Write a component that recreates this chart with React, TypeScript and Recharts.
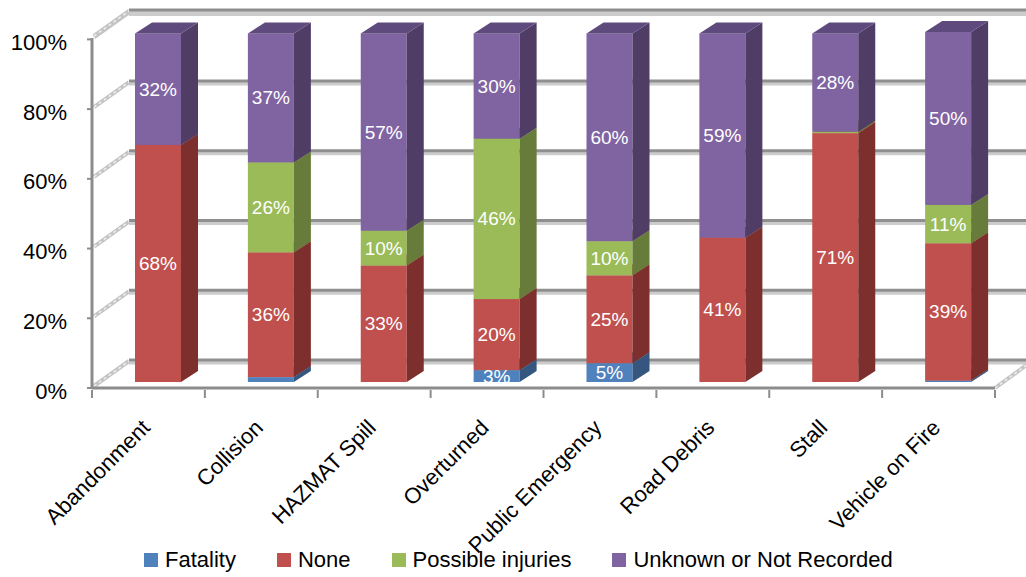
import {
  Bar,
  BarChart,
  CartesianGrid,
  LabelList,
  Legend,
  XAxis,
  YAxis,
} from 'recharts';

// Incident types and share of each injury outcome (%).
const CATEGORIES = [
  'Abandonment',
  'Collision',
  'HAZMAT Spill',
  'Overturned',
  'Public Emergency',
  'Road Debris',
  'Stall',
  'Vehicle on Fire',
];
const FATALITY = [0, 1.4, 0, 3.4, 5.4, 0, 0, 0.4];
const NONE = [68, 35.8, 33.4, 20.4, 25.2, 41.4, 71.4, 39.4];
const POSSIBLE = [0, 25.8, 10, 46, 9.8, 0, 0.4, 11];
const UNKNOWN = [32, 37, 56.6, 30.2, 59.6, 58.6, 28.2, 49.6];
const Y_TICKS = [0, 20, 40, 60, 80, 100];

const data = CATEGORIES.map((name, i) => ({
  name,
  Fatality: FATALITY[i],
  None: NONE[i],
  'Possible injuries': POSSIBLE[i],
  'Unknown or Not Recorded': UNKNOWN[i],
}));

const SERIES = [
  { key: 'Fatality', front: '#4F81BD', side: '#35577F', top: '#3F6797' },
  { key: 'None', front: '#C0504D', side: '#7D2F2D', top: '#9A3F3D' },
  { key: 'Possible injuries', front: '#9BBB59', side: '#677B3A', top: '#7C9647' },
  { key: 'Unknown or Not Recorded', front: '#8064A2', side: '#4F3D66', top: '#5E4A7D' },
];

const FONT = '"Liberation Sans", Arial, sans-serif';
const W = 1026;
const H = 577;
const Y_AXIS_W = 92;
const RIGHT = 31;
const TOP = 38;
const X_AXIS_H = 189;
const BAND = (W - Y_AXIS_W - RIGHT) / CATEGORIES.length;

// 3D look: bars sit a little behind the front plane, back wall further back.
const SHIFT_X = 10;
const SHIFT_Y = -6;
const DEPTH_X = 17;
const DEPTH_Y = 11;
const WALL_X = 37;
const WALL_Y = -27;

function BoxShape(props: any) {
  const { x, y, width, height, front, side, top } = props;
  if (!height || height <= 0) return <g />;
  const x0 = x + SHIFT_X;
  const y0 = y + SHIFT_Y;
  const x1 = x0 + width;
  const y1 = y0 + height;
  return (
    <g>
      <rect x={x0} y={y0} width={width} height={height} fill={front} />
      <polygon
        points={`${x1},${y0} ${x1 + DEPTH_X},${y0 - DEPTH_Y} ${x1 + DEPTH_X},${y1 - DEPTH_Y} ${x1},${y1}`}
        fill={side}
      />
      <polygon
        points={`${x0},${y0} ${x1},${y0} ${x1 + DEPTH_X},${y0 - DEPTH_Y} ${x0 + DEPTH_X},${y0 - DEPTH_Y}`}
        fill={top}
      />
    </g>
  );
}

function ValueLabel(props: any) {
  const vb = props.viewBox ?? props;
  const raw = props.value;
  const v = Array.isArray(raw) ? raw[1] - raw[0] : Number(raw);
  if (!(v >= 2.5)) return null;
  return (
    <text
      x={vb.x + SHIFT_X + vb.width / 2}
      y={vb.y + SHIFT_Y + vb.height / 2}
      fill="#ffffff"
      textAnchor="middle"
      dominantBaseline="central"
      fontSize={19}
      fontFamily={FONT}
    >
      {Math.round(v)}%
    </text>
  );
}

function GridLine(props: any) {
  const { x1, y1, x2, index } = props;
  const isFloor = index === 0;
  const isTop = index === Y_TICKS.length - 1;
  return (
    <g>
      <line x1={x1 + WALL_X} y1={y1 + WALL_Y + 1} x2={x2 + WALL_X} y2={y1 + WALL_Y + 1} stroke="#cccccc" strokeWidth={5} />
      <line
        x1={x1 + WALL_X}
        y1={y1 + WALL_Y - 1}
        x2={x2 + WALL_X}
        y2={y1 + WALL_Y - 1}
        stroke={isTop ? '#bdbdbd' : '#8f8f8f'}
        strokeWidth={3}
      />
      <line x1={x1 + 2} y1={y1 - 2} x2={x1 + WALL_X} y2={y1 + WALL_Y} stroke="#c4c4c4" strokeWidth={4} />
      <line x1={x1 + 2} y1={y1 - 2} x2={x1 + WALL_X} y2={y1 + WALL_Y} stroke="#efefef" strokeWidth={1.5} strokeDasharray="3 3" />
      {isFloor && (
        <>
          <line x1={x2} y1={y1} x2={x2 + WALL_X} y2={y1 + WALL_Y} stroke="#c4c4c4" strokeWidth={4} />
          <line x1={x2} y1={y1} x2={x2 + WALL_X} y2={y1 + WALL_Y} stroke="#efefef" strokeWidth={1.5} strokeDasharray="3 3" />
        </>
      )}
    </g>
  );
}

function YTick(props: any) {
  const { y, payload } = props;
  return (
    <text x={67} y={y + 3} textAnchor="end" dominantBaseline="central" fontSize={22} fontFamily={FONT} fill="#000">
      {payload.value}%
    </text>
  );
}

function XTick(props: any) {
  const { x, y, payload, index } = props;
  const last = index === CATEGORIES.length - 1;
  const lx = x + 3;
  const ly = y + 39;
  return (
    <g>
      <line x1={x - BAND / 2} y1={y} x2={x - BAND / 2} y2={y + 8} stroke="#8c8c8c" strokeWidth={2} />
      {last && <line x1={x + BAND / 2} y1={y} x2={x + BAND / 2} y2={y + 8} stroke="#8c8c8c" strokeWidth={2} />}
      <text
        x={lx}
        y={ly}
        transform={`rotate(-45, ${lx}, ${ly})`}
        textAnchor="end"
        fontSize={22}
        fontFamily={FONT}
        fill="#000"
      >
        {payload.value}
      </text>
    </g>
  );
}

function LegendBox() {
  return (
    <div style={{ display: 'flex', alignItems: 'center', fontFamily: FONT, fontSize: 22, color: '#000', height: 26 }}>
      {SERIES.map((s) => (
        <div key={s.key} style={{ display: 'flex', alignItems: 'center', marginRight: 41 }}>
          <span style={{ width: 14, height: 14, background: s.front, display: 'inline-block', marginRight: 7 }} />
          <span style={{ whiteSpace: 'nowrap' }}>{s.key}</span>
        </div>
      ))}
    </div>
  );
}

export default function App() {
  return (
    <div style={{ position: 'absolute', left: 0, top: 0, width: W, height: H, background: '#fff' }}>
      <BarChart
        width={W}
        height={H}
        data={data}
        margin={{ top: TOP, right: RIGHT, left: 0, bottom: 0 }}
        barSize={46}
      >
        <CartesianGrid vertical={false} horizontal={(p: any) => <GridLine {...p} />} />
        <YAxis
          width={Y_AXIS_W}
          domain={[0, 100]}
          ticks={Y_TICKS}
          axisLine={{ stroke: '#8c8c8c', strokeWidth: 3 }}
          tickLine={{ stroke: '#8c8c8c', strokeWidth: 2 }}
          tickSize={5}
          tick={<YTick />}
        />
        <XAxis
          dataKey="name"
          height={X_AXIS_H}
          interval={0}
          axisLine={{ stroke: '#8c8c8c', strokeWidth: 3 }}
          tickLine={false}
          tickSize={0}
          tick={<XTick />}
        />
        <Legend
          verticalAlign="middle"
          align="center"
          layout="horizontal"
          wrapperStyle={{ top: 547, left: 144, width: 'auto' }}
          content={() => <LegendBox />}
        />
        {SERIES.map((s) => (
          <Bar
            key={s.key}
            dataKey={s.key}
            stackId="a"
            isAnimationActive={false}
            fill={s.front}
            shape={(p: any) => <BoxShape {...p} front={s.front} side={s.side} top={s.top} />}
          >
            <LabelList dataKey={s.key} content={(p: any) => <ValueLabel {...p} />} />
          </Bar>
        ))}
      </BarChart>
    </div>
  );
}
